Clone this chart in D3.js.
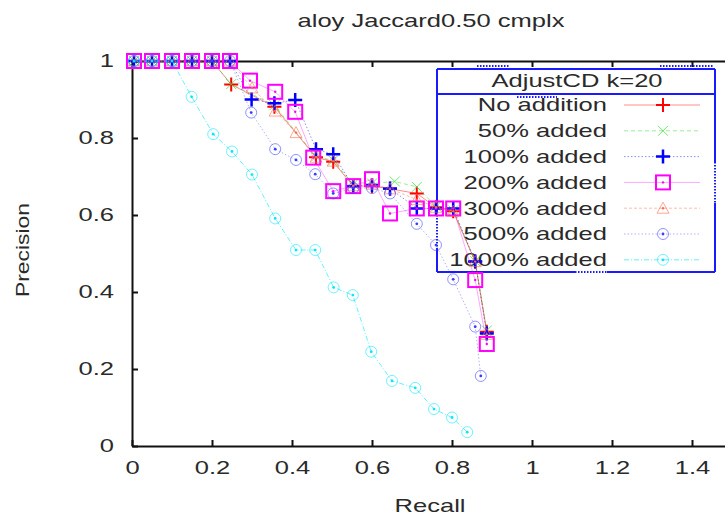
<!DOCTYPE html>
<html>
<head>
<meta charset="utf-8">
<script src="https://cdn.jsdelivr.net/npm/d3@7"></script>
<style>
  body { margin: 0; background: #fff; }
  text { font-family: "Liberation Sans", Arial, sans-serif; fill: #2a2a2a; }
</style>
</head>
<body>
<script>
const width = 725
const height = 517

const title = "aloy Jaccard0.50 cmplx"
const legendTitle = "AdjustCD k=20"
const seriesNames = ["No addition", "50% added", "100% added", "200% added", "300% added", "500% added", "1000% added"]
const xTicks = [0, 0.2, 0.4, 0.6, 0.8, 1, 1.2, 1.4]
const xTickLabels = ["0", "0.2", "0.4", "0.6", "0.8", "1", "1.2", "1.4"]
const yTicks = [0, 0.2, 0.4, 0.6, 0.8, 1]
const yTickLabels = ["0", "0.2", "0.4", "0.6", "0.8", "1"]

// [recall, precision]
const noAddition = [[0.005,1],[0.05,1],[0.1,1],[0.15,1],[0.2,1],[0.248,0.939],[0.356,0.881],[0.46,0.75],[0.503,0.738],[0.553,0.675],[0.6,0.675],[0.645,0.668],[0.712,0.656],[0.76,0.62],[0.803,0.61],[0.858,0.479],[0.887,0.297]]
const added50 = [[0.005,1],[0.05,1],[0.1,1],[0.15,1],[0.2,1],[0.248,0.94],[0.356,0.885],[0.46,0.752],[0.503,0.742],[0.553,0.68],[0.6,0.682],[0.657,0.687],[0.712,0.673],[0.76,0.622],[0.803,0.612],[0.858,0.48],[0.887,0.3]]
const added100 = [[0.005,1],[0.05,1],[0.1,1],[0.15,1],[0.2,1],[0.245,1],[0.299,0.9],[0.356,0.89],[0.408,0.899],[0.46,0.771],[0.503,0.758],[0.553,0.675],[0.6,0.678],[0.645,0.669],[0.712,0.617],[0.76,0.617],[0.803,0.617],[0.858,0.479],[0.887,0.292]]
const added200 = [[0.005,1],[0.05,1],[0.1,1],[0.15,1],[0.2,1],[0.245,1],[0.295,0.949],[0.358,0.92],[0.408,0.868],[0.453,0.749],[0.503,0.662],[0.553,0.675],[0.6,0.693],[0.645,0.604],[0.712,0.617],[0.76,0.617],[0.803,0.617],[0.858,0.431],[0.887,0.265]]
const added300 = [[0.005,1],[0.05,1],[0.1,1],[0.15,1],[0.2,1],[0.245,1],[0.3,0.93],[0.358,0.87],[0.41,0.814],[0.46,0.75],[0.503,0.74],[0.553,0.676],[0.6,0.68],[0.645,0.668],[0.712,0.64],[0.76,0.62],[0.803,0.61],[0.858,0.479],[0.887,0.29]]
const added500 = [[0.005,1],[0.05,1],[0.1,1],[0.15,1],[0.2,1],[0.245,1],[0.298,0.866],[0.358,0.771],[0.41,0.743],[0.458,0.706],[0.503,0.656],[0.553,0.67],[0.6,0.67],[0.645,0.656],[0.712,0.577],[0.76,0.522],[0.803,0.433],[0.858,0.31],[0.872,0.182]]
const added1000 = [[0.005,1],[0.05,1],[0.1,1],[0.149,0.907],[0.203,0.81],[0.25,0.765],[0.3,0.705],[0.358,0.591],[0.41,0.509],[0.458,0.509],[0.504,0.412],[0.552,0.392],[0.598,0.245],[0.65,0.169],[0.708,0.151],[0.755,0.096],[0.8,0.074],[0.838,0.036]]

const seriesData = [noAddition, added50, added100, added200, added300, added500, added1000]

const styles = [
  { color: "#ff0000", dash: null, lineOp: 0.45, marker: "plus", mw: 2 },
  { color: "#33dd33", dash: "4,3", lineOp: 0.5, marker: "cross", mw: 1 },
  { color: "#0000ff", dash: "1.5,2", lineOp: 0.45, marker: "plus", mw: 2.5 },
  { color: "#ff00ff", dash: null, lineOp: 0.35, marker: "square", mw: 2 },
  { color: "#ff6a4a", dash: "3,2", lineOp: 0.45, marker: "triangle", mw: 1 },
  { color: "#3b3bff", dash: "1.5,2", lineOp: 0.4, marker: "circle", mw: 1 },
  { color: "#00e8ff", dash: "5,2,1,2", lineOp: 0.6, marker: "circle", mw: 1 }
]

const plot = { left: 132, right: 772, top: 61, bottom: 446 }
const fontSize = "18px"
const stretch = 1.42   // reference glyphs are wide

const svg = d3.select("body").append("svg").attr("width", width).attr("height", height)

const x = d3.scaleLinear().domain([0, 1.6]).range([plot.left, plot.right])
const y = d3.scaleLinear().domain([0, 1]).range([plot.bottom, plot.top])

function wideText(parent, str, px, py, anchor, rot, f) {
  const g = parent.append("g").attr("transform", `translate(${px},${py}) rotate(${rot || 0}) scale(${f || stretch},1)`)
  g.append("text").text(str).attr("dy", "0.35em").attr("text-anchor", anchor).style("font-size", fontSize)
  return g
}

// title and axis labels
wideText(svg, title, 431, 21, "middle")
wideText(svg, "Recall", 430, 506, "middle")
wideText(svg, "Precision", 23, 250, "middle", -90, 1.27)

// axes (gnuplot style: inward ticks)
const xAxis = svg.append("g").attr("transform", `translate(0,${plot.bottom})`)
  .call(d3.axisBottom(x).tickValues(xTicks).tickFormat((d, i) => xTickLabels[i])
    .tickSizeInner(-6).tickSizeOuter(0).tickPadding(15))
const xTop = svg.append("g").attr("transform", `translate(0,${plot.top})`)
  .call(d3.axisTop(x).tickValues(xTicks).tickFormat("").tickSizeInner(-6).tickSizeOuter(0))
const yAxis = svg.append("g").attr("transform", `translate(${plot.left},0)`)
  .call(d3.axisLeft(y).tickValues(yTicks).tickFormat((d, i) => yTickLabels[i])
    .tickSizeInner(-6).tickSizeOuter(0).tickPadding(18))

;[xAxis, xTop, yAxis].forEach(g => {
  g.select(".domain").attr("stroke", "#111").attr("stroke-width", 2)
  g.selectAll(".tick line").attr("stroke", "#111").attr("stroke-width", 2)
  g.selectAll(".tick text").style("font-size", fontSize).style("font-family", "Liberation Sans, Arial, sans-serif").attr("fill", "#2a2a2a")
})
xAxis.selectAll(".tick text").attr("transform", `scale(${stretch},1)`)
yAxis.selectAll(".tick text").attr("x", 0).attr("transform", `translate(-18,0) scale(${stretch},1)`)

function drawMarker(g, type, color, sw) {
  if (type === "plus") {
    g.append("path").attr("d", "M-7,0H7M0,-7V7").attr("stroke", color).attr("stroke-width", sw).attr("fill", "none")
  } else if (type === "cross") {
    g.append("path").attr("d", "M-5,-5L5,5M-5,5L5,-5").attr("stroke", color).attr("stroke-width", sw).attr("fill", "none").attr("opacity", 0.7)
  } else if (type === "square") {
    g.append("rect").attr("x", -7).attr("y", -7).attr("width", 14).attr("height", 14)
      .attr("stroke", color).attr("stroke-width", sw).attr("fill", "none")
    g.append("circle").attr("r", 1.2).attr("fill", color)
  } else if (type === "triangle") {
    g.append("path").attr("d", "M0,-6L6,5H-6Z").attr("stroke", color).attr("stroke-width", sw).attr("fill", "none").attr("opacity", 0.6)
    g.append("circle").attr("r", 1.2).attr("fill", color)
  } else if (type === "circle") {
    g.append("circle").attr("r", 5.5).attr("stroke", color).attr("stroke-width", sw).attr("fill", "none").attr("opacity", 0.55)
    g.append("circle").attr("r", 1.4).attr("fill", color)
  }
}

// legend (transparent; data is drawn over it)
const lg = { left: 437, right: 715, top: 69, bottom: 272, sep: 94 }
const legend = svg.append("g")
wideText(legend, legendTitle, 577, 81, "middle")

seriesNames.forEach((name, i) => {
  const s = styles[i]
  const cy = 105 + i * 25.8
  wideText(legend, name, 607, cy, "end")
  legend.append("line").attr("x1", 624).attr("x2", 700).attr("y1", cy).attr("y2", cy)
    .attr("stroke", s.color).attr("stroke-opacity", s.lineOp).attr("stroke-dasharray", s.dash)
  const g = legend.append("g").attr("transform", `translate(663,${cy})`)
  drawMarker(g, s.marker, s.color, s.mw)
})

// legend frame: solid blue with a few dotted stretches
const solid = [
  [lg.left, lg.top, lg.right, lg.top],
  [lg.left, lg.sep, lg.right, lg.sep],
  [lg.left, lg.top, lg.left, 212], [lg.left, 249, lg.left, lg.bottom],
  [lg.right, lg.top, lg.right, 162], [lg.right, 203, lg.right, lg.bottom],
  [lg.left, lg.bottom, 575, lg.bottom], [607, lg.bottom, lg.right, lg.bottom]
]
const dotted = [
  [lg.left, 212, lg.left, 249], [lg.right, 162, lg.right, 203],
  [575, lg.bottom, 607, lg.bottom], [477, 66, 510, 66], [660, 66, 713, 66], [517, 97, 557, 97]
]
solid.forEach(s => legend.append("line").attr("x1", s[0]).attr("y1", s[1]).attr("x2", s[2]).attr("y2", s[3])
  .attr("stroke", "#1a1aff").attr("stroke-width", 2))
dotted.forEach(s => legend.append("line").attr("x1", s[0]).attr("y1", s[1]).attr("x2", s[2]).attr("y2", s[3])
  .attr("stroke", "#1a1aff").attr("stroke-width", 2).attr("stroke-dasharray", "1.5,1.5"))

const line = d3.line().x(d => x(d[0])).y(d => y(d[1]))

seriesData.forEach((data, i) => {
  const s = styles[i]
  svg.append("path").attr("d", line(data)).attr("fill", "none")
    .attr("stroke", s.color).attr("stroke-opacity", s.lineOp).attr("stroke-width", 1)
    .attr("stroke-dasharray", s.dash)
  data.forEach(d => {
    const g = svg.append("g").attr("transform", `translate(${x(d[0])},${y(d[1])})`)
    drawMarker(g, s.marker, s.color, s.mw)
  })
})
</script>
</body>
</html>
